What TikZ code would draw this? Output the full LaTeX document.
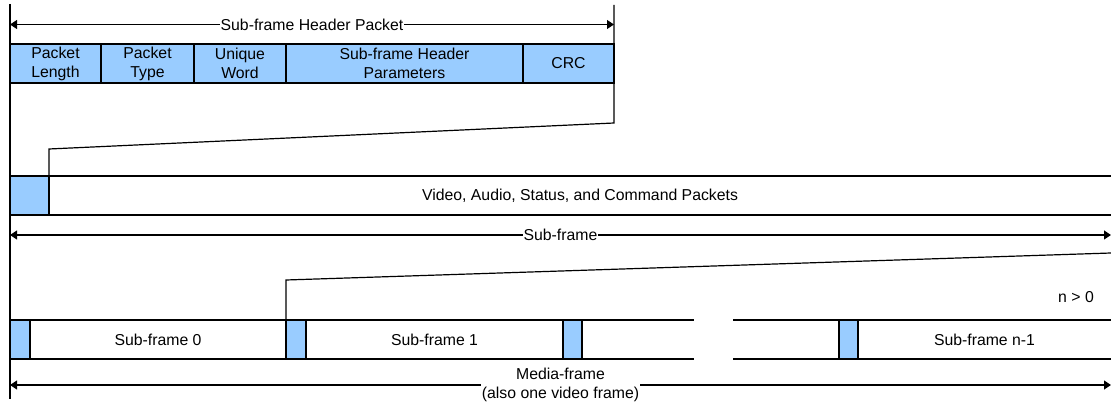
\documentclass[tikz,border=0pt]{standalone}
\usepackage{fontspec}
\setmainfont{Liberation Sans}
\usetikzlibrary{arrows.meta,positioning}
\definecolor{hdrblue}{RGB}{153,204,255}

\begin{document}
\begin{tikzpicture}[
      x=1pt, y=-1pt,
      line width=1.2pt,
      font=\fontsize{15.8}{19}\selectfont,
      cell/.style  = {draw, minimum height=39pt, inner sep=0pt, outer sep=0pt, align=center},
      hcell/.style = {cell, fill=hdrblue},
      blk/.style   = {cell, fill=hdrblue, minimum width=20pt},
      bare/.style  = {minimum height=39pt, inner sep=0pt, outer sep=0pt, align=center},
      arr/.style   = {{Triangle[length=7pt,width=9pt]}-{Triangle[length=7pt,width=9pt]}},
      lbl/.style   = {fill=white, inner sep=1pt, align=center},
    ]
    \useasboundingbox (0,0) rectangle (1111,403);

    % sub-frame header packet
    \node[hcell, minimum width=91pt, anchor=north west] (plen) at (10,44) {Packet\\Length};
    \node[hcell, minimum width=93pt,  right=0pt of plen]  (ptype)  {Packet\\Type};
    \node[hcell, minimum width=92pt,  right=0pt of ptype] (uword)  {Unique\\Word};
    \node[hcell, minimum width=237pt, right=0pt of uword] (params) {Sub-frame Header\\Parameters};
    \node[hcell, minimum width=91pt,  right=0pt of params] (crc)   {CRC};

    % sub-frame
    \node[blk, minimum width=39pt, anchor=north west] (hdr) at (10,176) {};
    \node[bare, minimum width=1062pt, right=0pt of hdr] (pkts) {Video, Audio, Status, and Command Packets};
    \draw (pkts.north west) -- (pkts.north east) (pkts.south west) -- (pkts.south east);

    % media-frame
    \node[blk, anchor=north west] (h0) at (10,320) {};
    \node[cell, minimum width=256pt, right=0pt of h0]  (sf0) {Sub-frame 0};
    \node[blk, right=0pt of sf0] (h1) {};
    \node[cell, minimum width=257pt, right=0pt of h1]  (sf1) {Sub-frame 1};
    \node[blk, minimum width=19pt, right=0pt of sf1]   (h2)  {};
    \node[bare, minimum width=112pt, right=0pt of h2]  (sf2) {};
    \node[bare, minimum width=106pt, anchor=north west] (sfm) at (733,320) {};
    \node[blk, minimum width=19pt, right=0pt of sfm]   (hn)  {};
    \node[bare, minimum width=253pt, right=0pt of hn]  (sfn) {Sub-frame n-1};
    \draw (sf2.north west) -- (sf2.north east) (sf2.south west) -- (sf2.south east);
    \draw (sfm.north west) -- (sfm.north east) (sfm.south west) -- (sfm.south east);
    \draw (sfn.north west) -- (sfn.north east) (sfn.south west) -- (sfn.south east);
    \node (ncount) at (1076,297) {n > 0};

    % leaders
    \coordinate (ltop) at (10,4);
    \coordinate (lbot) at (10,399);
    \coordinate (rtop) at (614,5);
    \coordinate (rbend) at (614,123);
    \coordinate (hstep) at (49,149);
    \coordinate (sfr) at (1111,253);
    \coordinate (sfstep) at (286,280);
    \draw (ltop) -- (lbot);
    \draw (rtop) -- (rbend) -- (hstep) -- (hdr.north east);
    \draw (sfr) -- (sfstep) -- (h1.north west);

    % spans
    \coordinate (hpl) at (10,24.5);   \coordinate (hpr) at (614,24.5);
    \coordinate (sfl) at (10,235);    \coordinate (sfrr) at (1111,235);
    \coordinate (mfl) at (10,385);    \coordinate (mfr) at (1111,385);
    \draw[arr] (hpl) -- node[lbl] {Sub-frame Header Packet} (hpr);
    \draw[arr] (sfl) -- node[lbl] {Sub-frame} (sfrr);
    \draw[arr] (mfl) -- node[lbl] {Media-frame\\(also one video frame)} (mfr);
  \end{tikzpicture}
\end{document}
